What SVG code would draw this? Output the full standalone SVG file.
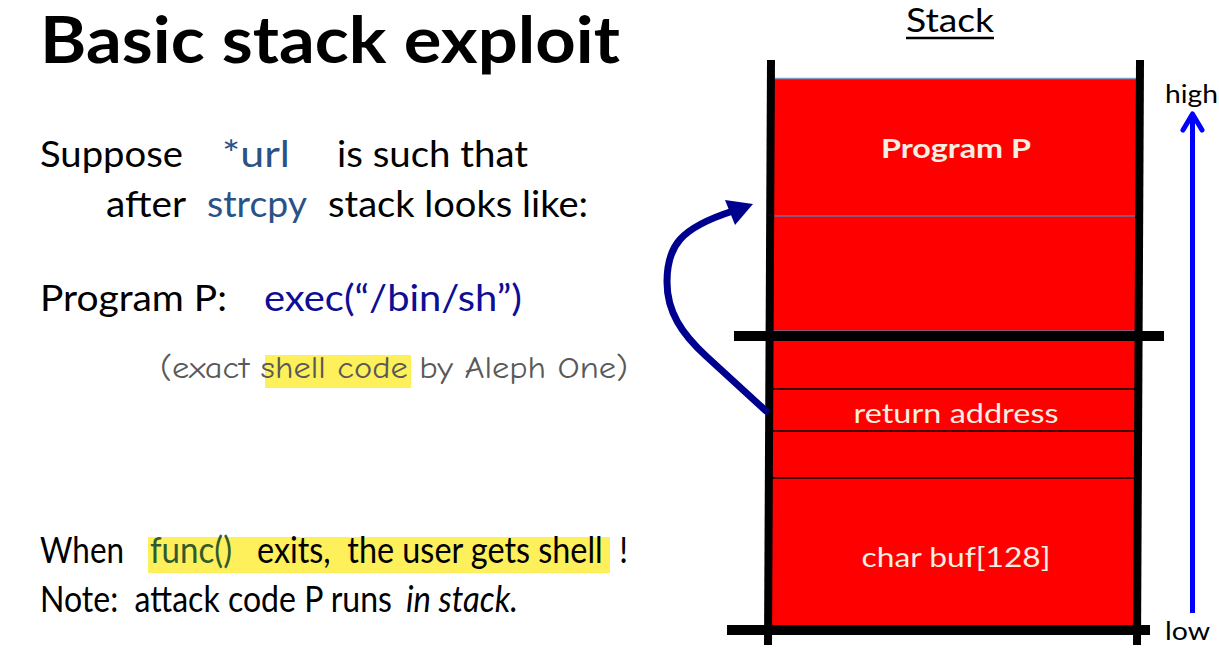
<svg xmlns="http://www.w3.org/2000/svg" width="1219" height="659" viewBox="0 0 1219 659">
  <style>
    .sans { font-family: Lato, "Noto Sans", "Liberation Sans", sans-serif; }
    .body { font-size: 36px; fill: #000; }
    .blue { fill: #2a5286; }
    .navy { fill: #0d0d96; }
    .green { fill: #2f5a2f; }
    .cell { font-size: 27px; fill: #f4efe2; }
    .comic { font-family: "Comic Neue", "Comic Sans MS", "Noto Sans", "DejaVu Sans", sans-serif; font-size: 31px; fill: #595959; }
    .wall { stroke: #000; stroke-width: 8; fill: none; }
    .bar { stroke: #000; stroke-width: 10; fill: none; }
    .rule { stroke: #000; stroke-width: 1.6; }
    .seam { stroke: #6b6f9e; stroke-width: 1.6; }
    .hl { fill: #fdf05a; }
  </style>

  <rect width="1219" height="659" fill="#fff"/>

  <!-- heading -->
  <g id="title">
    <text class="sans" x="40" y="63" font-size="65" font-weight="700" textLength="580" lengthAdjust="spacingAndGlyphs">Basic stack exploit</text>
  </g>

  <!-- explanation text on the left -->
  <g id="suppose">
    <text class="sans body" x="40" y="167" textLength="143" lengthAdjust="spacingAndGlyphs">Suppose</text>
    <text class="sans body blue" x="222" y="167" textLength="68" lengthAdjust="spacingAndGlyphs">*url</text>
    <text class="sans body" x="337" y="167" textLength="191" lengthAdjust="spacingAndGlyphs">is such that</text>
    <text class="sans body" x="106" y="217" textLength="80" lengthAdjust="spacingAndGlyphs">after</text>
    <text class="sans body blue" x="207" y="217" textLength="100" lengthAdjust="spacingAndGlyphs">strcpy</text>
    <text class="sans body" x="328" y="217" textLength="260" lengthAdjust="spacingAndGlyphs">stack looks like:</text>
  </g>

  <g id="program-p">
    <text class="sans body" x="40" y="311" textLength="187" lengthAdjust="spacingAndGlyphs">Program P:</text>
    <text class="sans body navy" x="264" y="311" textLength="258" lengthAdjust="spacingAndGlyphs">exec(“/bin/sh”)</text>
  </g>

  <g id="shellcode-note">
    <rect class="hl" x="265" y="355" width="146" height="33"/>
    <text class="comic" x="160" y="378" textLength="468" lengthAdjust="spacingAndGlyphs">(exact shell code by Aleph One)</text>
  </g>

  <g id="when-exits">
    <rect class="hl" x="148" y="537" width="462" height="36"/>
    <text class="sans body" x="40" y="563" font-size="29" textLength="84" lengthAdjust="spacingAndGlyphs">When</text>
    <text class="sans body green" x="150" y="563" font-size="29" textLength="82" lengthAdjust="spacingAndGlyphs">func()</text>
    <text class="sans body" x="257" y="563" font-size="28" textLength="371" lengthAdjust="spacingAndGlyphs" xml:space="preserve">exits,  the user gets shell  !</text>
  </g>

  <g id="note">
    <text class="sans body" x="40" y="612" font-size="26" textLength="352" lengthAdjust="spacingAndGlyphs" xml:space="preserve">Note:  attack code P runs</text>
    <text class="sans body" x="406" y="612" font-size="26" font-style="italic" textLength="112" lengthAdjust="spacingAndGlyphs">in stack.</text>
  </g>

  <!-- stack column -->
  <g id="stack-heading">
    <text class="sans" x="906" y="32" font-size="33" textLength="88" lengthAdjust="spacingAndGlyphs">Stack</text>
    <line x1="906" y1="38" x2="994" y2="38" stroke="#000" stroke-width="2.5"/>
  </g>

  <g id="stack-fill">
    <polygon points="771,78 1139,78 1137,630 768,630" fill="#ff0000"/>
    <line x1="771" y1="78.5" x2="1139" y2="78.5" stroke="#7f9cc4" stroke-width="1.5"/>
  </g>

  <g id="cell-program-p">
    <text class="sans cell" x="956" y="158" font-weight="700" text-anchor="middle" textLength="150" lengthAdjust="spacingAndGlyphs">Program P</text>
    <line class="seam" x1="770" y1="216" x2="1139" y2="216"/>
  </g>

  <g id="cell-upper-empty">
    <line class="seam" x1="770" y1="331" x2="1138" y2="331"/>
  </g>

  <g id="cell-saved">
    <line class="rule" x1="768" y1="389" x2="1137" y2="389"/>
  </g>

  <g id="cell-return-address">
    <text class="sans cell" x="956" y="423" text-anchor="middle" textLength="205" lengthAdjust="spacingAndGlyphs">return address</text>
    <line class="rule" x1="768" y1="431" x2="1137" y2="431"/>
  </g>

  <g id="cell-frame">
    <line class="rule" x1="768" y1="478" x2="1137" y2="478"/>
  </g>

  <g id="cell-buf">
    <text class="sans cell" x="956" y="567" text-anchor="middle" textLength="189" lengthAdjust="spacingAndGlyphs">char buf[128]</text>
  </g>

  <g id="stack-frame">
    <line class="wall" x1="771" y1="60" x2="768" y2="645"/>
    <line class="wall" x1="1140" y1="60" x2="1137" y2="645"/>
    <line class="bar" x1="734" y1="336" x2="1164" y2="336"/>
    <line class="bar" x1="727" y1="630" x2="1150" y2="630"/>
  </g>

  <g id="axis-labels">
    <text class="sans" x="1165" y="103" font-size="25" textLength="53" lengthAdjust="spacingAndGlyphs">high</text>
    <text class="sans" x="1165" y="640" font-size="25" textLength="45" lengthAdjust="spacingAndGlyphs">low</text>
  </g>

  <!-- connectors -->
  <g id="connectors">
    <!-- return address points back up into Program P -->
    <path d="M 766 411 L 706 356 C 682 334 667 312 667 282 C 667 246 680 228 733 211" fill="none" stroke="#00008f" stroke-width="7" stroke-linecap="round"/>
    <polygon points="753,204 725,200 735,225" fill="#00008f"/>
    <!-- address growth direction -->
    <line x1="1192.5" y1="613" x2="1192.5" y2="116" stroke="#0000ff" stroke-width="5"/>
    <polyline points="1183,130 1192.5,114 1202,130" fill="none" stroke="#0000ff" stroke-width="5" stroke-linecap="round" stroke-linejoin="round"/>
  </g>
</svg>
